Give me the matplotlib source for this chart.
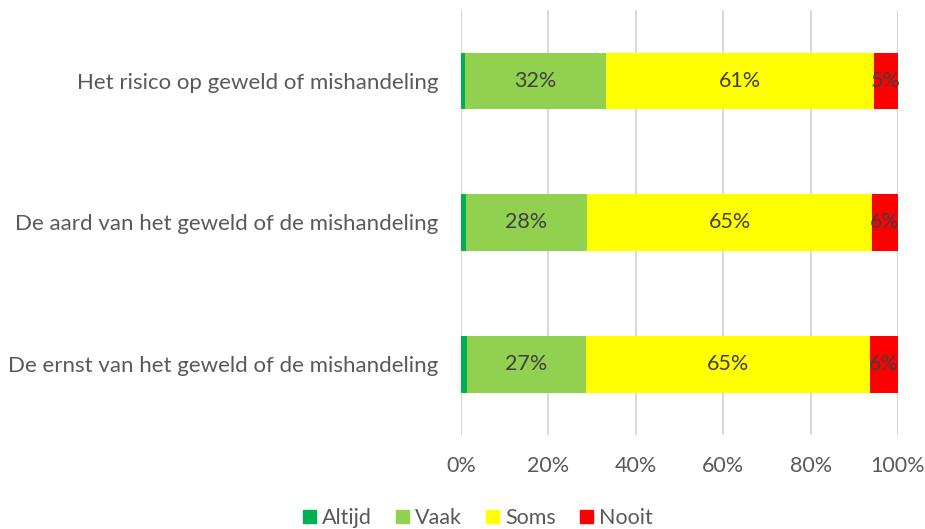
import numpy as np
import matplotlib.pyplot as plt
from matplotlib.patches import Patch

categories = ['Het risico op geweld of mishandeling',
              'De aard van het geweld of de mishandeling',
              'De ernst van het geweld of de mishandeling']
series = ['Altijd', 'Vaak', 'Soms', 'Nooit']
altijd = [1.0, 1.1, 1.3]
vaak = [32.2, 27.7, 27.4]
soms = [61.2, 65.3, 65.0]
nooit = [5.6, 5.9, 6.3]
labels = [None, ['32%', '28%', '27%'], ['61%', '65%', '65%'], ['5%', '6%', '6%']]
colors = ['#00B050', '#92D050', '#FFFF00', '#FF0000']
ticks = [0, 20, 40, 60, 80, 100]

plt.rcParams['font.family'] = ['Lato', 'DejaVu Sans']
text_color = '#595959'
fs = 15.5

fig = plt.figure(figsize=(9.25, 5.29), dpi=100)
ax = fig.add_axes([461 / 925, 1 - 435 / 529, 437 / 925, 425 / 529])

y = np.arange(len(categories))
left = np.zeros(len(categories))
for name, vals, lab, col in zip(series, [altijd, vaak, soms, nooit], labels, colors):
    vals = np.array(vals)
    bars = ax.barh(y, vals, left=left, height=0.4, color=col, zorder=3)
    if lab is not None:
        ax.bar_label(bars, labels=lab, label_type='center',
                     color='#404040', fontsize=fs)
    left += vals

ax.set_xlim(0, 100)
ax.set_ylim(len(categories) - 0.5, -0.5)
ax.set_xticks(ticks)
ax.set_xticklabels([f'{t}%' for t in ticks])
ax.set_yticks(y)
ax.set_yticklabels(categories)
ax.tick_params(axis='both', length=0, colors=text_color, labelsize=fs)
ax.tick_params(axis='y', labelsize=16, pad=16.5)
ax.tick_params(axis='x', pad=15)
ax.grid(axis='x', color='#D9D9D9', linewidth=1.5, zorder=0)
for s in ax.spines.values():
    s.set_visible(False)

handles = [Patch(color=c, label=n) for n, c in zip(series, colors)]
fig.legend(handles=handles, loc='lower center', bbox_to_anchor=(478 / 925, -0.035),
           ncol=4, frameon=False, fontsize=fs, labelcolor=text_color,
           handlelength=0.6, handleheight=0.6, handletextpad=0.3, columnspacing=1.1)

fig.savefig('out.png', dpi=100)
